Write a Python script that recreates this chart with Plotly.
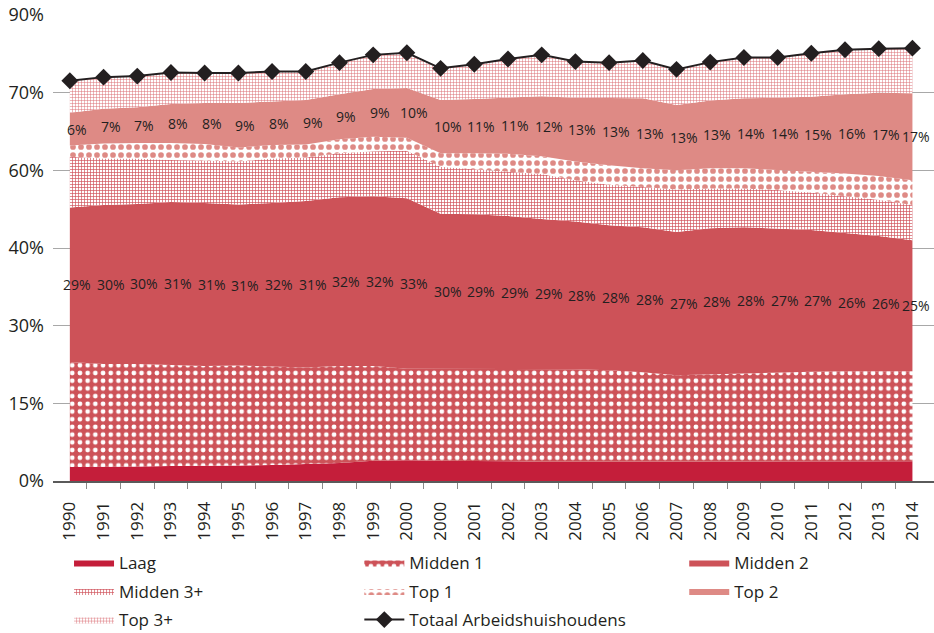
import numpy as np
import plotly.graph_objects as go

# ---------------- data (axis units: 0-90 scale) ----------------
years = ["1990", "1991", "1992", "1993", "1994", "1995", "1996", "1997", "1998", "1999",
         "2000", "2000", "2001", "2002", "2003", "2004", "2005", "2006", "2007", "2008",
         "2009", "2010", "2011", "2012", "2013", "2014"]

laag = [2.7, 2.7, 2.8, 2.9, 2.9, 3.0, 3.1, 3.3, 3.5, 3.9, 4.0, 3.9, 3.9, 3.8, 3.7, 3.7,
        3.7, 3.7, 3.8, 3.8, 3.8, 3.8, 3.8, 3.8, 3.8, 3.8]
midden1 = [20.3, 19.9, 19.8, 19.5, 19.3, 19.3, 19.0, 18.6, 18.7, 18.3, 17.7, 17.8, 17.8,
           17.9, 18.0, 17.9, 17.7, 17.3, 16.6, 16.8, 17.0, 17.1, 17.3, 17.4, 17.4, 17.4]
midden2 = [29.8, 30.7, 30.9, 31.5, 31.5, 31.1, 31.6, 32.2, 32.6, 32.8, 32.9, 29.9, 29.8,
           29.5, 28.9, 28.5, 28.0, 28.0, 27.7, 28.2, 28.2, 27.9, 27.4, 26.7, 26.1, 25.3]
midden3 = [9.8, 9.0, 8.8, 8.1, 8.2, 8.3, 8.6, 8.4, 8.5, 8.7, 9.2, 9.1, 8.7, 8.5, 8.7, 8.0,
           7.8, 7.8, 8.2, 7.7, 7.5, 7.4, 7.2, 7.1, 7.0, 6.8]
top1 = [2.2, 2.9, 3.0, 3.3, 3.2, 2.7, 2.6, 2.5, 2.7, 2.8, 2.5, 2.6, 3.1, 3.5, 3.4, 3.6,
        3.8, 3.6, 3.7, 3.9, 3.9, 3.9, 4.0, 4.4, 4.6, 4.8]
top2 = [6.3, 6.7, 6.9, 7.5, 7.9, 8.6, 8.4, 8.6, 8.7, 9.2, 9.6, 10.3, 10.5, 10.9, 11.6,
        12.3, 12.9, 13.5, 12.6, 13.1, 13.5, 13.9, 14.5, 15.3, 16.1, 16.8]
top3 = [6.2, 6.1, 6.0, 6.1, 5.8, 5.8, 5.8, 5.5, 6.1, 6.6, 6.8, 6.1, 6.7, 7.4, 8.0, 7.0,
        6.9, 7.3, 6.9, 7.4, 7.9, 7.8, 8.4, 8.6, 8.5, 8.7]
totaal = [77.3, 78.0, 78.2, 78.9, 78.8, 78.8, 79.1, 79.1, 80.8, 82.3, 82.7, 79.7, 80.5,
          81.5, 82.3, 81.0, 80.8, 81.2, 79.5, 80.9, 81.8, 81.8, 82.6, 83.3, 83.5, 83.6]

midden2_labels = ["29%", "30%", "30%", "31%", "31%", "31%", "32%", "31%", "32%", "32%",
                  "33%", "30%", "29%", "29%", "29%", "28%", "28%", "28%", "27%", "28%",
                  "28%", "27%", "27%", "26%", "26%", "25%"]
top2_labels = ["6%", "7%", "7%", "8%", "8%", "9%", "8%", "9%", "9%", "9%", "10%", "10%",
               "11%", "11%", "12%", "13%", "13%", "13%", "13%", "13%", "14%", "14%",
               "15%", "16%", "17%", "17%"]

y_tick_vals = [0, 15, 30, 45, 60, 75, 90]
y_tick_text = ["0%", "15%", "30%", "40%", "60%", "70%", "90%"]

# ---------------- styling ----------------
FONT = "Open Sans"
TXT = "#231F20"
C_LAAG = "#C41E3A"
C_M2 = "#CD5258"
C_T2 = "#DE8A85"

xs = list(range(len(years)))

fig = go.Figure()

def area(name, vals, legend, fillcolor=None, pattern=None):
    kw = dict(x=xs, y=vals, name=name, mode="lines", stackgroup="s",
              line=dict(width=0, color=fillcolor or "#ffffff"),
              legend=legend, legendgroup=name, hoverinfo="skip")
    if fillcolor:
        kw["fillcolor"] = fillcolor
    if pattern:
        kw["fillpattern"] = pattern
    fig.add_trace(go.Scatter(**kw))

area("Laag", laag, "legend", fillcolor=C_LAAG)
area("Midden 1", midden1, "legend2",
     pattern=dict(shape=".", fgcolor="#FFFFFF", bgcolor=C_M2, size=7.7, solidity=0.3,
                  fillmode="replace"))
area("Midden 2", midden2, "legend3", fillcolor=C_M2)
area("Midden 3+", midden3, "legend",
     pattern=dict(shape="+", fgcolor="#D0525A", bgcolor="#FFFFFF", size=3, solidity=0.4,
                  fillmode="replace"))
area("Top 1", top1, "legend2",
     pattern=dict(shape=".", fgcolor=C_T2, bgcolor="#FFFFFF", size=8, solidity=0.4,
                  fillmode="replace"))
area("Top 2", top2, "legend3", fillcolor=C_T2)
area("Top 3+", top3, "legend",
     pattern=dict(shape="+", fgcolor="#DA6E74", bgcolor="#FFFFFF", size=3, solidity=0.3,
                  fillmode="replace"))

fig.add_trace(go.Scatter(
    x=xs, y=totaal, name="Totaal Arbeidshuishoudens", mode="lines+markers",
    line=dict(color=TXT, width=2),
    marker=dict(symbol="diamond", size=13, color=TXT),
    legend="legend2", legendgroup="tot", hoverinfo="skip"))

# ---------------- data labels (centered in segments) ----------------
stack = np.cumsum(np.array([laag, midden1, midden2, midden3, top1, top2]), axis=0)
m2_mid = (stack[1] + stack[2]) / 2
t2_mid = (stack[4] + stack[5]) / 2
annotations = []
n = len(xs)
for i in xs:
    shift = 7 if i < n - 1 else 4
    annotations.append(dict(x=i, y=m2_mid[i], text=midden2_labels[i], showarrow=False,
                            xshift=shift, font=dict(family=FONT, size=14, color=TXT)))
    annotations.append(dict(x=i, y=t2_mid[i], text=top2_labels[i], showarrow=False,
                            xshift=shift, font=dict(family=FONT, size=14, color=TXT)))

legend_common = dict(orientation="v", yanchor="top", xanchor="left",
                     font=dict(family=FONT, size=17, color=TXT),
                     itemwidth=40, tracegroupgap=3.5, traceorder="grouped",
                     bgcolor="rgba(0,0,0,0)")

LEG_Y = -0.137
fig.update_layout(
    width=934, height=633,
    margin=dict(l=53, r=0, t=15, b=152, autoexpand=False),
    paper_bgcolor="white", plot_bgcolor="white",
    font=dict(family=FONT, color=TXT),
    showlegend=True,
    legend=dict(x=0.0182, y=LEG_Y, **legend_common),
    legend2=dict(x=0.3477, y=LEG_Y, **legend_common),
    legend3=dict(x=0.7165, y=LEG_Y, **legend_common),
    annotations=annotations,
    hovermode=False,
    xaxis=dict(
        range=[-0.5, 25.64], tickmode="array", tickvals=xs, ticktext=years,
        tickangle=-90, ticks="", showgrid=False, zeroline=False, automargin=False,
        showline=True, linecolor="#5A5A5A", linewidth=2,
        tickfont=dict(family=FONT, size=17, color=TXT), ticklabelstandoff=12,
        minor=dict(tickmode="array", tickvals=[i + 0.5 for i in xs[:-1]],
                   ticks="outside", ticklen=6, tickcolor="#8A8A8A", tickwidth=1,
                   showgrid=False),
    ),
    yaxis=dict(
        range=[0, 90], tickmode="array", tickvals=y_tick_vals, ticktext=y_tick_text,
        showgrid=True, gridcolor="#A8A8A8", gridwidth=1.2, zeroline=False,
        automargin=False, showline=False, ticks="", ticklabelstandoff=8,
        tickfont=dict(family=FONT, size=18, color=TXT),
    ),
)

fig.write_html("out.html",
               config={"displayModeBar": False},
               post_script="document.body.style.margin='0px';"
                           "document.body.style.padding='0px';"
                           "document.documentElement.style.overflow='hidden';")
